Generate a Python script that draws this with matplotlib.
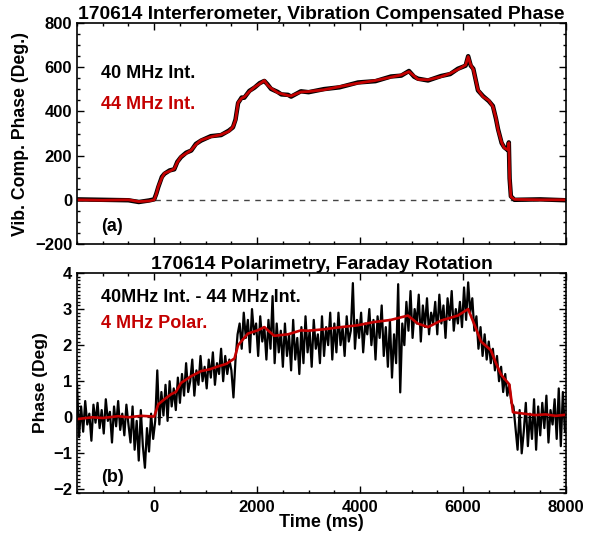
import numpy as np
import matplotlib
matplotlib.use("Agg")
import matplotlib.pyplot as plt
from matplotlib.ticker import MultipleLocator

plt.rcParams['font.family'] = ['Liberation Sans', 'DejaVu Sans']
plt.rcParams['font.weight'] = 'bold'

# ---- panel (a): interferometer phase (deg) ----
t_int = [-1500, -1000, -500, -300, -100, 0, 40, 80, 150, 200, 300, 390, 450, 520,
         620, 720, 810, 910, 1100, 1300, 1450, 1530, 1580, 1630, 1700, 1750, 1850,
         1950, 2050, 2140, 2200, 2270, 2400, 2470, 2600, 2660, 2850, 3000, 3300,
         3600, 3960, 4300, 4600, 4800, 4950, 5050, 5125, 5320, 5570, 5750, 5900,
         6050, 6100, 6150, 6200, 6290, 6390, 6500, 6580, 6640, 6680, 6750, 6800,
         6880, 6890, 6905, 6930, 7000, 7500, 8000]
phase_44 = [0, -2, 0, -8, -5, 0, 25, 60, 100, 120, 130, 140, 170, 195,
            210, 225, 250, 270, 285, 295, 310, 330, 360, 440, 460, 465, 490,
            510, 525, 540, 520, 505, 485, 480, 472, 470, 488, 490, 498,
            512, 528, 540, 555, 565, 580, 560, 545, 543, 557, 572, 590,
            610, 648, 610, 590, 498, 466, 450, 422, 370, 317, 260, 235,
            226, 258, 100, 14, 2, 0, 0]
phase_40 = [2, 0, -2, -10, -3, 2, 27, 58, 104, 118, 133, 138, 172, 193,
            213, 223, 253, 268, 288, 293, 313, 328, 363, 438, 463, 462, 493,
            508, 528, 538, 523, 502, 488, 477, 475, 467, 491, 487, 501,
            509, 531, 537, 558, 562, 583, 557, 548, 540, 560, 569, 593,
            607, 650, 607, 593, 495, 469, 447, 425, 367, 320, 257, 238,
            223, 260, 97, 16, 0, 2, -2]

# ---- panel (b): polarimetry / Faraday rotation (deg) ----
t_pol = [-1500, -1200, -1000, -700, -500, -250, 0, 80, 200, 330, 420, 520, 720,
         910, 1080, 1240, 1400, 1560, 1630, 1820, 2010, 2140, 2330, 2600, 2850,
         2990, 3300, 3630, 3950, 4270, 4600, 4930, 5120, 5320, 5570, 5900,
         6100, 6190, 6350, 6540, 6640, 6740, 6900, 6970, 7180, 7400, 7600,
         7800, 8000]
polar_4mhz = [-0.05, 0.0, -0.02, 0.03, 0.0, 0.04, 0.02, 0.36, 0.5, 0.64, 0.7,
              0.95, 1.14, 1.28, 1.33, 1.41, 1.48, 1.63, 2.0, 2.32, 2.41, 2.5,
              2.26, 2.3, 2.41, 2.4, 2.44, 2.5, 2.55, 2.64, 2.7, 2.82, 2.6, 2.5,
              2.68, 2.82, 3.0, 2.68, 2.1, 1.86, 1.5, 1.18, 0.91, 0.14, 0.1,
              0.06, 0.08, 0.04, 0.07]

# 40 MHz - 44 MHz difference, sampled every 40 ms from -1500 ms
t_diff_start, t_diff_step = -1500, 40
diff_40_44 = [
    0.95, -0.55, 0.30, -0.40, 0.45, -0.20, 0.10, -0.65, 0.35, -0.15, 0.40, -0.30, 0.20,
    -0.45, 0.50, -0.10, 0.15, -0.70, 0.30, -0.25, 0.45, -0.35, 0.10, -0.50, 0.35,
    -0.20, -0.70, 0.30, -0.90, -0.10, -1.20, 0.20, -0.80, -1.40, -0.30, -0.95, 0.10, -0.60,
    -0.10, 1.30, -0.20, 0.70, 0.05, 0.90, -0.10, 1.00, 0.30, 0.80, 0.20, 1.10,
    0.40, 1.20, 0.60, 1.50, 0.70, 1.00, 1.60, 0.60, 1.30, 0.90, 1.70, 1.00, 1.40,
    0.80, 1.60, 1.10, 1.80, 0.90, 1.50, 1.20, 1.90, 1.00, 1.70, 1.20, 1.60,
    1.30, 0.55, 1.60, 2.30, 2.60, 1.90, 2.90, 2.20, 2.70, 1.80, 3.00, 2.30, 2.60,
    1.70, 2.80, 2.10, 2.50, 1.60, 2.70, 1.90, 3.36, 1.50, 2.60, 1.80, 2.40,
    1.40, 2.60, 1.70, 2.30, 1.30, 2.70, 1.60, 2.20, 1.20, 2.50, 1.50, 2.80, 1.80,
    2.40, 1.40, 2.70, 1.90, 2.30, 1.50, 2.80, 1.70, 2.50, 2.00, 2.90, 1.60,
    2.60, 1.80, 2.90, 2.00, 2.50, 1.70, 2.80, 2.10, 2.40, 3.72, 1.90, 2.70, 2.20,
    2.90, 1.80, 2.60, 2.30, 3.00, 2.00, 2.70, 1.60, 2.80, 2.20, 3.10, 1.70,
    2.50, 1.40, 2.70, 1.10, 2.30, 1.50, 3.69, 0.69, 2.60, 2.00, 3.20, 2.40, 3.50,
    2.20, 3.00, 2.60, 3.40, 2.10, 3.10, 2.50, 3.30, 2.30, 2.90, 2.60, 3.20,
    2.30, 3.40, 2.60, 3.10, 2.20, 3.30, 2.70, 3.50, 2.40, 3.00, 2.60, 3.20, 2.50,
    3.60, 2.70, 3.74, 2.90, 3.30, 2.40, 2.80, 1.90, 2.50, 1.70, 2.30, 1.60,
    2.10, 1.50, 1.90, 1.30, 1.70, 1.00, 1.40, 0.70, 1.20, 0.60, 0.90, 0.40, 0.30,
    -0.30, -0.90, 0.20, -1.00, -0.40, 0.40, -0.80, 0.10, -0.60, 0.50, -0.90, 0.30,
    -0.50, 0.40, -0.30, 0.60, -0.70, 0.20, -0.20, 0.50, -0.60, 0.80, -0.80, 0.70, -0.40,
]
t_diff = t_diff_start + t_diff_step * np.arange(len(diff_40_44))

RED = '#c40000'
fig = plt.figure(figsize=(5.94, 5.33), dpi=100)
ax1 = fig.add_axes([0.1296, 0.5422, 0.8232, 0.4146])
ax2 = fig.add_axes([0.1296, 0.0750, 0.8232, 0.4128])

# panel (a)
ax1.axhline(0, color='#444444', lw=1, ls=(0, (4, 4)))
ax1.plot(t_int, phase_40, color='black', lw=3.2)
ax1.plot(t_int, phase_44, color=RED, lw=2.0)
ax1.set_ylim(-200, 800)
ax1.yaxis.set_major_locator(MultipleLocator(200))
ax1.yaxis.set_minor_locator(MultipleLocator(50))
ax1.set_ylabel('Vib. Comp. Phase (Deg.)', fontsize=12.7, fontweight='bold')
ax1.set_title('170614 Interferometer, Vibration Compensated Phase',
              fontsize=13.9, fontweight='bold', pad=3)
ax1.text(0.05, 0.77, '40 MHz Int.', transform=ax1.transAxes, fontsize=13,
         fontweight='bold', va='center')
ax1.text(0.05, 0.63, '44 MHz Int.', transform=ax1.transAxes, fontsize=13,
         fontweight='bold', va='center', color=RED)
ax1.text(0.05, 0.08, '(a)', transform=ax1.transAxes, fontsize=13,
         fontweight='bold', va='center')
ax1.tick_params(labelbottom=False)

# panel (b)
ax2.axhline(0, color='black', lw=0.9, ls=(0, (4, 4)))
ax2.plot(t_diff, diff_40_44, color='black', lw=1.6)
ax2.plot(t_pol, polar_4mhz, color=RED, lw=1.9)
ax2.set_ylim(-2.1, 4)
ax2.yaxis.set_major_locator(MultipleLocator(1))
ax2.yaxis.set_minor_locator(MultipleLocator(0.1))
ax2.set_ylabel('Phase (Deg)', fontsize=12.5, fontweight='bold')
ax2.set_xlabel('Time (ms)', fontsize=13, fontweight='bold', labelpad=-1)
ax2.set_title('170614 Polarimetry, Faraday Rotation',
              fontsize=13.9, fontweight='bold', pad=3)
ax2.text(0.05, 0.89, '40MHz Int. - 44 MHz Int.', transform=ax2.transAxes,
         fontsize=13, fontweight='bold', va='center')
ax2.text(0.05, 0.77, '4 MHz Polar.', transform=ax2.transAxes, fontsize=13,
         fontweight='bold', va='center', color=RED)
ax2.text(0.05, 0.07, '(b)', transform=ax2.transAxes, fontsize=13,
         fontweight='bold', va='center')

for ax in (ax1, ax2):
    ax.set_xlim(-1500, 8000)
    ax.xaxis.set_major_locator(MultipleLocator(2000))
    ax.xaxis.set_minor_locator(MultipleLocator(500))
    ax.tick_params(which='both', direction='in', top=True, right=True,
                   labelsize=12, width=1)
    ax.tick_params(axis='x', pad=5)
    ax.tick_params(which='major', length=5)
    ax.tick_params(which='minor', length=2.5)
    for s in ax.spines.values():
        s.set_linewidth(1.2)
    for lab in ax.get_xticklabels() + ax.get_yticklabels():
        lab.set_fontweight('bold')

fig.savefig('out.png', dpi=100)
